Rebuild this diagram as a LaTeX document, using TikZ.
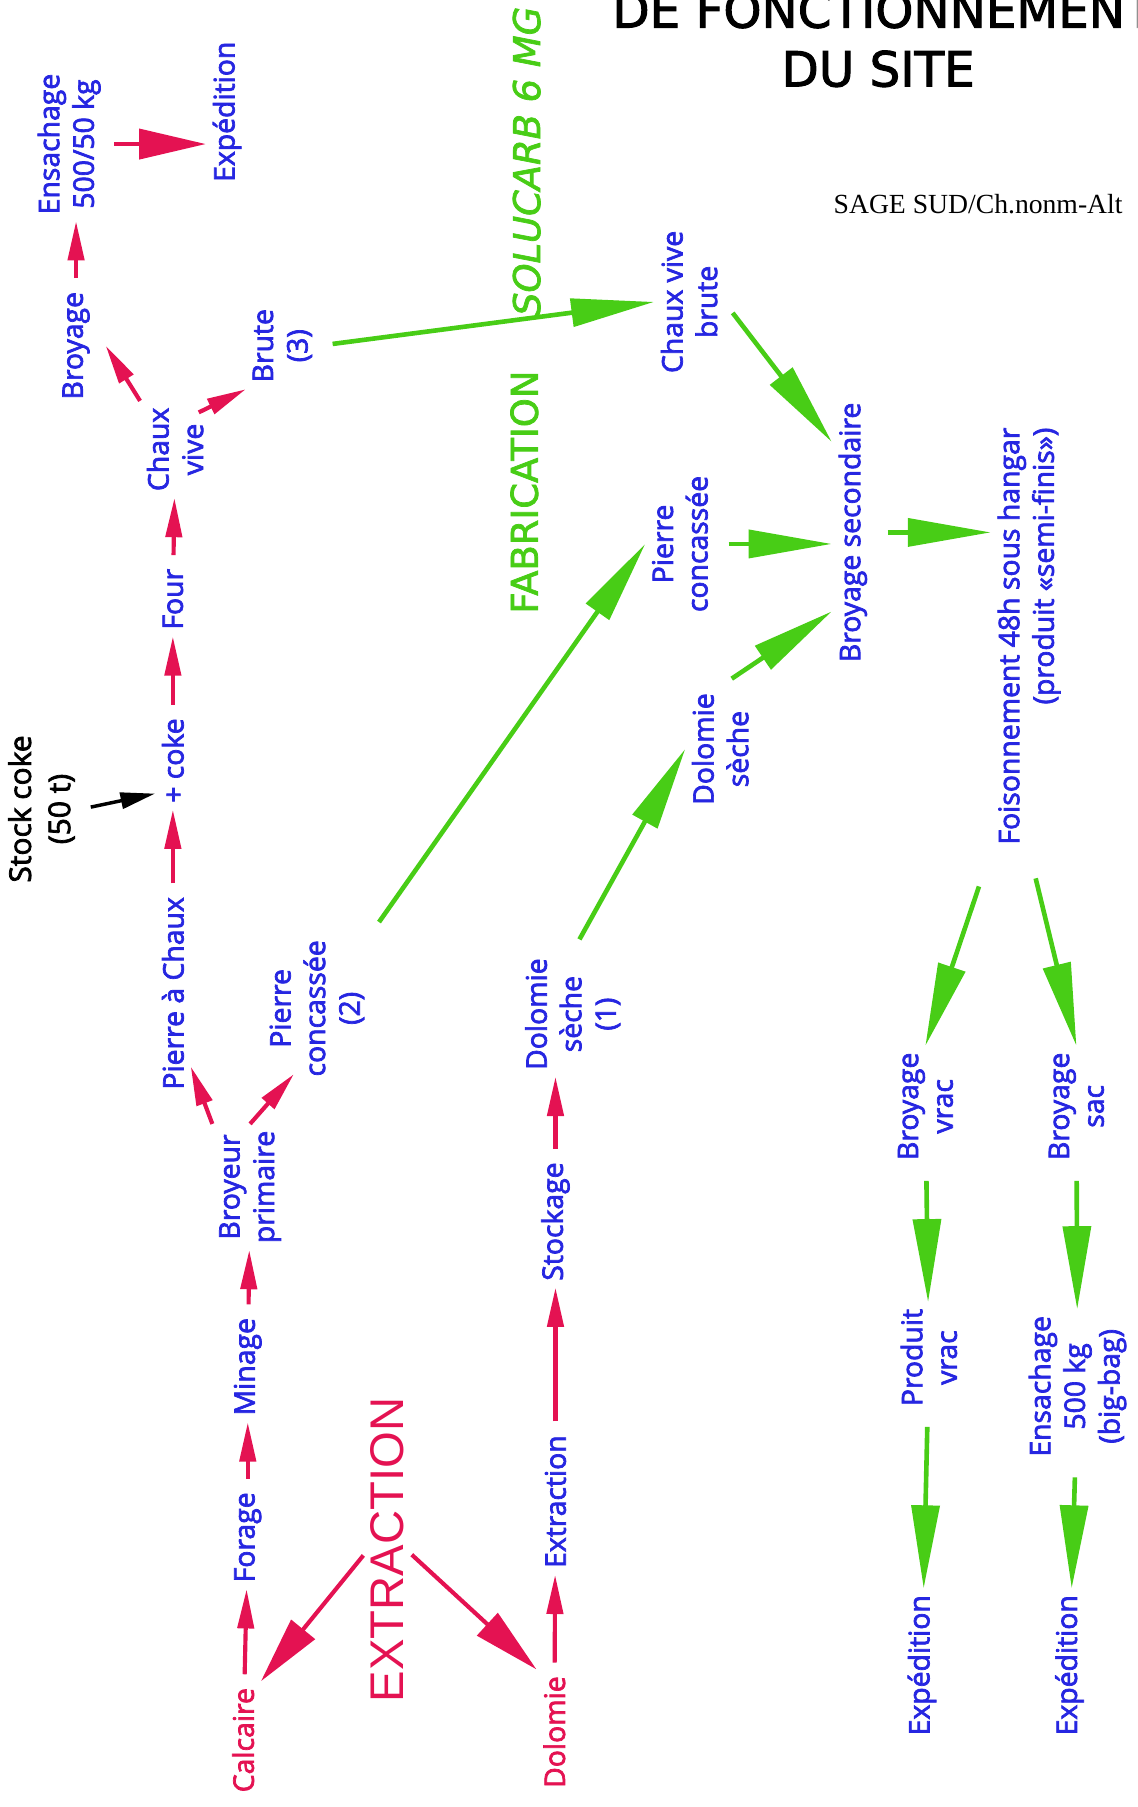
\documentclass[tikz,border=0pt]{standalone}
\usepackage{fontspec}
\setmainfont{Open Sans}
\newfontfamily\lblfont{Open Sans}[FakeBold=2.5]
\newfontfamily\headfont{DejaVu Sans}[FakeBold=2]
\newfontfamily\arialfont{Liberation Sans}
\newfontfamily\notefont{Liberation Serif}
\usetikzlibrary{arrows.meta}
\definecolor{extractRed}{RGB}{228,18,82}
\definecolor{stepBlue}{RGB}{38,38,225}
\definecolor{fabGreen}{RGB}{72,205,22}

\begin{document}
\begin{tikzpicture}
[x=0.5pt,y=-0.5pt,
stepLabel/.style={rotate=90,align=center,text=stepBlue,font=\lblfont\fontsize{12.3}{15}\selectfont,inner sep=1pt,outer sep=2pt},
rawLabel/.style={stepLabel,text=extractRed},
cokeLabel/.style={stepLabel,text=black,font=\lblfont\fontsize{13}{17}\selectfont},
extractLabel/.style={rotate=90,text=extractRed,font=\arialfont\fontsize{20.5}{24}\selectfont,inner sep=1pt},
fabLabel/.style={rotate=90,text=fabGreen,font=\headfont\fontsize{16}{19}\selectfont,inner sep=1pt},
headLabel/.style={font=\headfont\fontsize{21}{25}\selectfont,inner sep=0pt},
noteLabel/.style={font=\notefont\fontsize{12}{14}\selectfont,inner sep=0pt},
redEdge/.style={draw=extractRed,line width=1.8pt,-{Triangle[length=17pt,width=7pt]},shorten <=3pt},
bigRedEdge/.style={redEdge,-{Triangle[length=29pt,width=13pt]}},
greenEdge/.style={draw=fabGreen,line width=2pt,-{Triangle[length=36pt,width=12pt]},shorten <=6pt},
cokeEdge/.style={draw=black,line width=1.5pt,-{Triangle[length=15pt,width=7pt]},shorten <=4pt}]
\useasboundingbox (0,0) rectangle (987,1568);
\clip (0,0) rectangle (987,1568);
\node[rawLabel,] (1) at (211 , 1510) {Calcaire};
\node[stepLabel,] (2) at (215 , 1334) {Forage};
\node[stepLabel,] (3) at (215 , 1186) {Minage};
\node[stepLabel,] (4) at (217 , 1030) {Broyeur\\primaire};
\node[stepLabel,] (5) at (150 , 862) {Pierre à Chaux};
\node[stepLabel,] (6) at (275 , 875) {Pierre\\concassée\\(2)};
\node[stepLabel,] (7) at (150 , 660) {+ coke};
\node[cokeLabel,] (8) at (36 , 702) {Stock coke\\(50 t)};
\node[stepLabel,] (9) at (150 , 520) {Four};
\node[stepLabel,] (10) at (152 , 390) {Chaux\\vive};
\node[stepLabel,] (11) at (66 , 300) {Broyage};
\node[stepLabel,] (12) at (60 , 125) {Ensachage\\500/50 kg};
\node[stepLabel,] (13) at (197 , 97) {Expédition};
\node[stepLabel,] (14) at (245 , 300) {Brute\\(3)};
\node[stepLabel,] (15) at (598 , 262) {Chaux vive\\brute};
\node[stepLabel,] (16) at (590 , 472) {Pierre\\concassée};
\node[stepLabel,] (17) at (625 , 650) {Dolomie\\sèche};
\node[stepLabel,] (18) at (740 , 462) {Broyage secondaire};
\node[stepLabel,align=right] (19) at (893 , 552) {Foisonnement 48h sous hangar\\(produit «semi-finis»)};
\node[stepLabel,] (20) at (803 , 960) {Broyage\\vrac};
\node[stepLabel,] (21) at (934 , 960) {Broyage\\sac};
\node[stepLabel,] (22) at (806 , 1178) {Produit\\vrac};
\node[stepLabel,] (23) at (935 , 1203) {Ensachage\\500 kg\\(big-bag)};
\node[stepLabel,] (24) at (800 , 1445) {Expédition};
\node[stepLabel,] (25) at (928 , 1445) {Expédition};
\node[rawLabel,] (26) at (481 , 1503) {Dolomie};
\node[stepLabel,] (27) at (482 , 1303) {Extraction};
\node[stepLabel,] (28) at (482 , 1060) {Stockage};
\node[stepLabel,] (29) at (497 , 880) {Dolomie\\sèche\\(1)};
\node[extractLabel,] (30) at (336 , 1345) {EXTRACTION};
\node[fabLabel,] (31) at (455 , 427) {FABRICATION};
\node[fabLabel,font=\headfont\itshape\fontsize{16}{19}\selectfont] (32) at (457 , 140) {SOLUCARB 6 MG};
\node[headLabel,anchor=base west] (33) at (531 , 24) {DE FONCTIONNEMENT};
\node[headLabel,anchor=base] (34) at (762 , 75) {DU SITE};
\node[noteLabel,anchor=base west] (35) at (723 , 185) {SAGE SUD/Ch.nonm-Alt};
\draw[redEdge,](1) -- (2) ;
\draw[redEdge,](2) -- (3) ;
\draw[redEdge,](3) -- (4) ;
\draw[redEdge,shorten <=0pt](4.north east) -- ([yshift=13pt]5.south west) ;
\draw[redEdge,shorten <=0pt](4.east) -- ([xshift=-10pt,yshift=4pt]6.west) ;
\draw[redEdge,](5) -- (7) ;
\draw[cokeEdge,](8.south) -- ([yshift=7pt]7.north west) ;
\draw[redEdge,](7) -- (9) ;
\draw[redEdge,](9) -- (10) ;
\draw[redEdge,shorten <=0pt](10.north east) -- ([xshift=4pt]11.south) ;
\draw[redEdge,shorten <=0pt]([xshift=-5pt,yshift=-5pt]10.south east) -- (14.north west) ;
\draw[redEdge,](11.east) -- (11.east |- 12.west) ;
\draw[bigRedEdge,](12.south) -- (12.south -| 13.north) ;
\draw[greenEdge,](14.south) -- (15.north) ;
\draw[greenEdge,](6.south east) -- (16.north) ;
\draw[greenEdge,](15.south) -- ([yshift=-20pt]18.north east) ;
\draw[greenEdge,](16.south) -- (16.south -| 18.north) ;
\draw[greenEdge,](17.east) -- ([yshift=25pt]18.north west) ;
\draw[greenEdge,](29.east) -- (17.north) ;
\draw[greenEdge,](18.south) -- (18.south -| 19.north) ;
\draw[greenEdge,shorten <=16pt](19.north west) -- (20.east) ;
\draw[greenEdge,shorten <=12pt](19.west) -- (21.east) ;
\draw[greenEdge,](20) -- (22) ;
\draw[greenEdge,](22) -- (24) ;
\draw[greenEdge,](21) -- (23) ;
\draw[greenEdge,](23) -- (25) ;
\draw[bigRedEdge,](30.north) -- (1.south east) ;
\draw[bigRedEdge,](30.south) -- (26.north east) ;
\draw[redEdge,](26) -- (27) ;
\draw[redEdge,](27) -- (28) ;
\draw[redEdge,](28.east) -- (28.east |- 29.west) ;
\end{tikzpicture}
\end{document}
